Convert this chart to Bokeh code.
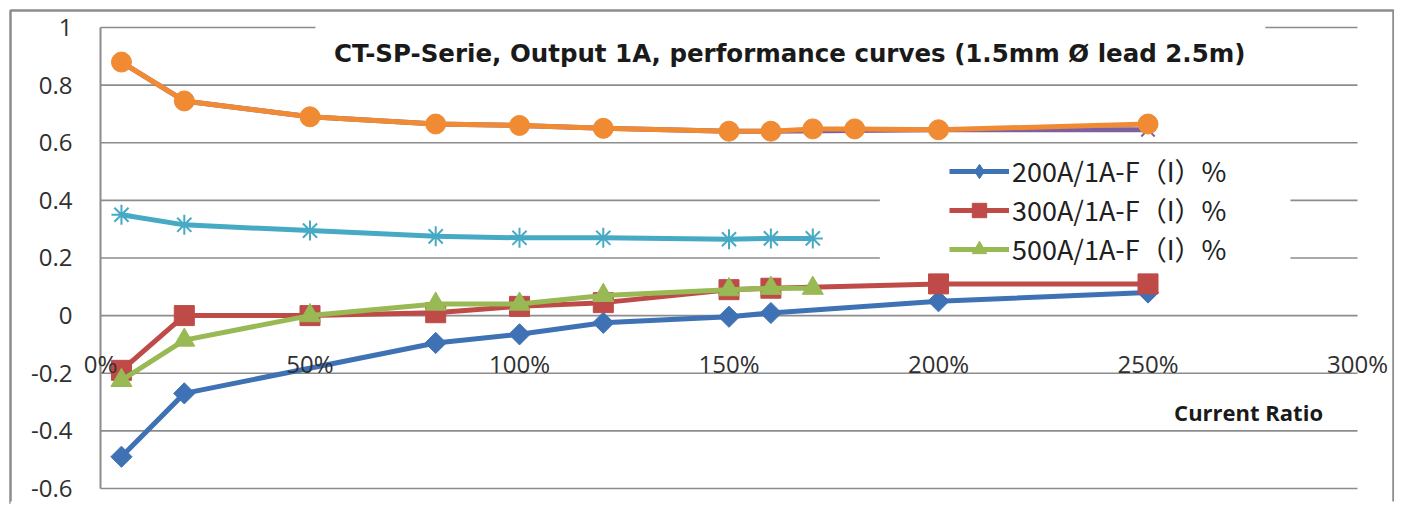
import math
from bokeh.plotting import figure
from bokeh.models import (Legend, LegendItem, Label, BoxAnnotation, LinearAxis,
                          FixedTicker, Range1d)
from bokeh.embed import file_html
from bokeh.resources import INLINE

# ---------------- data ----------------
x_ticks = [0, 50, 100, 150, 200, 250, 300]
x_tick_labels = ["0%", "50%", "100%", "150%", "200%", "250%", "300%"]
y_ticks = [-0.6, -0.4, -0.2, 0.0, 0.2, 0.4, 0.6, 0.8, 1.0]
y_tick_labels = ["-0.6", "-0.4", "-0.2", "0", "0.2", "0.4", "0.6", "0.8", "1"]

series_names = ["200A/1A-F（I）%", "300A/1A-F（I）%", "500A/1A-F（I）%"]

x_200 = [5, 20, 80, 100, 120, 150, 160, 200, 250]
y_200 = [-0.49, -0.27, -0.095, -0.065, -0.025, -0.004, 0.009, 0.05, 0.08]

x_300 = [5, 20, 50, 80, 100, 120, 150, 160, 200, 250]
y_300 = [-0.19, 0.0, 0.0, 0.01, 0.032, 0.045, 0.09, 0.095, 0.11, 0.11]

x_500 = [5, 20, 50, 80, 100, 120, 150, 160, 170]
y_500 = [-0.225, -0.085, 0.0, 0.04, 0.04, 0.07, 0.09, 0.095, 0.095]

x_s4 = [5, 20, 50, 80, 100, 120, 150, 160, 200, 250]
y_s4 = [0.88, 0.745, 0.69, 0.665, 0.66, 0.65, 0.64, 0.64, 0.645, 0.645]

x_s5 = [5, 20, 50, 80, 100, 120, 150, 160, 170]
y_s5 = [0.35, 0.315, 0.295, 0.275, 0.27, 0.27, 0.265, 0.268, 0.268]

x_s6 = [5, 20, 50, 80, 100, 120, 150, 160, 170, 180, 200, 250]
y_s6 = [0.88, 0.745, 0.69, 0.665, 0.66, 0.65, 0.64, 0.64, 0.648, 0.648, 0.645, 0.665]

title_text = "CT-SP-Serie, Output 1A, performance curves (1.5mm Ø lead 2.5m)"
x_title = "Current Ratio"

# ---------------- figure ----------------
# The frame is the outer chart border; the plot area (0..300 %, -0.6..1) sits inside it.
GRID = "#8c8c8c"
W, H = 1394, 504
p = figure(width=W, height=H, x_range=Range1d(-21.48, 308.83), y_range=Range1d(-0.6557, 1.059),
           x_axis_type=None, y_axis_type=None, output_backend="svg", toolbar_location=None,
           min_border_left=10, min_border_right=0, min_border_top=10, min_border_bottom=0)
p.outline_line_color = GRID
p.outline_line_width = 2.5
p.background_fill_color = "white"
p.border_fill_color = "white"
p.xgrid.visible = False
p.ygrid.visible = False

# y axis crossing at x = 0
yax = LinearAxis(fixed_location=x_ticks[0], ticker=FixedTicker(ticks=y_ticks),
                 bounds=(y_ticks[0], y_ticks[-1]))
yax.major_label_overrides = {t: l for t, l in zip(y_ticks, y_tick_labels)}
yax.major_tick_line_color = None
yax.minor_tick_line_color = None
yax.major_tick_out = 0
yax.major_tick_in = 0
yax.axis_line_color = GRID
yax.axis_line_width = 2
yax.major_label_standoff = 28
yax.major_label_text_font = "Open Sans"
yax.major_label_text_font_size = "24px"
yax.major_label_text_color = "#303030"
p.add_layout(yax, "left")

# horizontal gridlines across the plot area only
p.segment(x0=[x_ticks[0]] * len(y_ticks), x1=[x_ticks[-1]] * len(y_ticks), y0=y_ticks, y1=y_ticks,
          line_color=GRID, line_width=1.6, level="underlay")

# white boxes behind title and legend (as in the Excel chart)
p.add_layout(BoxAnnotation(left=51.3, right=278, bottom=0.816, top=1.052,
                           fill_color="white", fill_alpha=1, line_color=None, level="underlay"))
p.add_layout(BoxAnnotation(left=186, right=284, bottom=0.156, top=0.583,
                           fill_color="white", fill_alpha=1, line_color=None, level="underlay"))

# ---------------- series ----------------
C_BLUE, C_RED, C_GREEN = "#3F72B5", "#BE4B48", "#98B954"
C_PURPLE, C_CYAN, C_ORANGE = "#7D60A0", "#46AAC5", "#F08A33"
LW = 5

r1l = p.line(x_200, y_200, line_color=C_BLUE, line_width=LW, line_join="round")
p.scatter(x_200, y_200, marker="square", angle=math.pi / 4, size=15,
          fill_color=C_BLUE, line_color=C_BLUE)
# diamond used for the legend symbol (legend sizes its own marker)
r1leg = p.scatter(x_200, y_200, marker="diamond", size=0, fill_color=C_BLUE, line_color=C_BLUE)
r2l = p.line(x_300, y_300, line_color=C_RED, line_width=LW, line_join="round")
r2m = p.scatter(x_300, y_300, marker="square", size=20, fill_color=C_RED, line_color=C_RED)
r3l = p.line(x_500, y_500, line_color=C_GREEN, line_width=LW, line_join="round")
r3m = p.scatter(x_500, y_500, marker="triangle", size=21, fill_color=C_GREEN, line_color=C_GREEN)
p.line(x_s4, y_s4, line_color=C_PURPLE, line_width=LW, line_join="round")
p.scatter(x_s4, y_s4, marker="x", size=19, line_color=C_PURPLE, line_width=2)
p.line(x_s5, y_s5, line_color=C_CYAN, line_width=LW, line_join="round")
p.scatter(x_s5, y_s5, marker="asterisk", size=20, line_color=C_CYAN, line_width=2)
p.line(x_s6, y_s6, line_color=C_ORANGE, line_width=LW, line_join="round")
p.scatter(x_s6, y_s6, marker="circle", size=20, fill_color=C_ORANGE, line_color=C_ORANGE)

# ---------------- x tick labels below the zero line ----------------
for xt, lab in zip(x_ticks, x_tick_labels):
    p.add_layout(Label(x=xt, y=-0.165, text=lab, text_align="center", text_baseline="middle",
                       text_font="Open Sans", text_font_size="24px", text_color="#303030"))

# ---------------- title & axis title ----------------
p.add_layout(Label(x=164.5, y=0.91, text=title_text, text_align="center", text_baseline="middle",
                   text_font="DejaVu Sans", text_font_style="bold", text_font_size="24.5px",
                   text_color="#1a1a1a"))
p.add_layout(Label(x=274, y=-0.335, text=x_title, text_align="center", text_baseline="middle",
                   text_font="Open Sans", text_font_style="bold", text_font_size="22px",
                   text_color="#1a1a1a"))

# ---------------- legend ----------------
legend = Legend(items=[LegendItem(label=series_names[0], renderers=[r1l, r1leg]),
                       LegendItem(label=series_names[1], renderers=[r2l, r2m]),
                       LegendItem(label=series_names[2], renderers=[r3l, r3m])],
                location=(939, 236), glyph_width=60, glyph_height=36, label_height=36,
                spacing=0, label_standoff=3, padding=6, margin=0,
                background_fill_color="white", background_fill_alpha=1,
                border_line_color=None,
                label_text_font="Noto Sans CJK SC", label_text_font_size="27px",
                label_text_color="#202020")
p.add_layout(legend)

# hide the bottom edge of the border (the reference is cropped there)
p.add_layout(BoxAnnotation(left=0, right=W, top=H - 3, bottom=H + 5,
                           left_units="canvas", right_units="canvas",
                           top_units="canvas", bottom_units="canvas",
                           fill_color="white", fill_alpha=1, line_color=None, level="overlay"))

open("out.html", "w").write(file_html(p, INLINE))
